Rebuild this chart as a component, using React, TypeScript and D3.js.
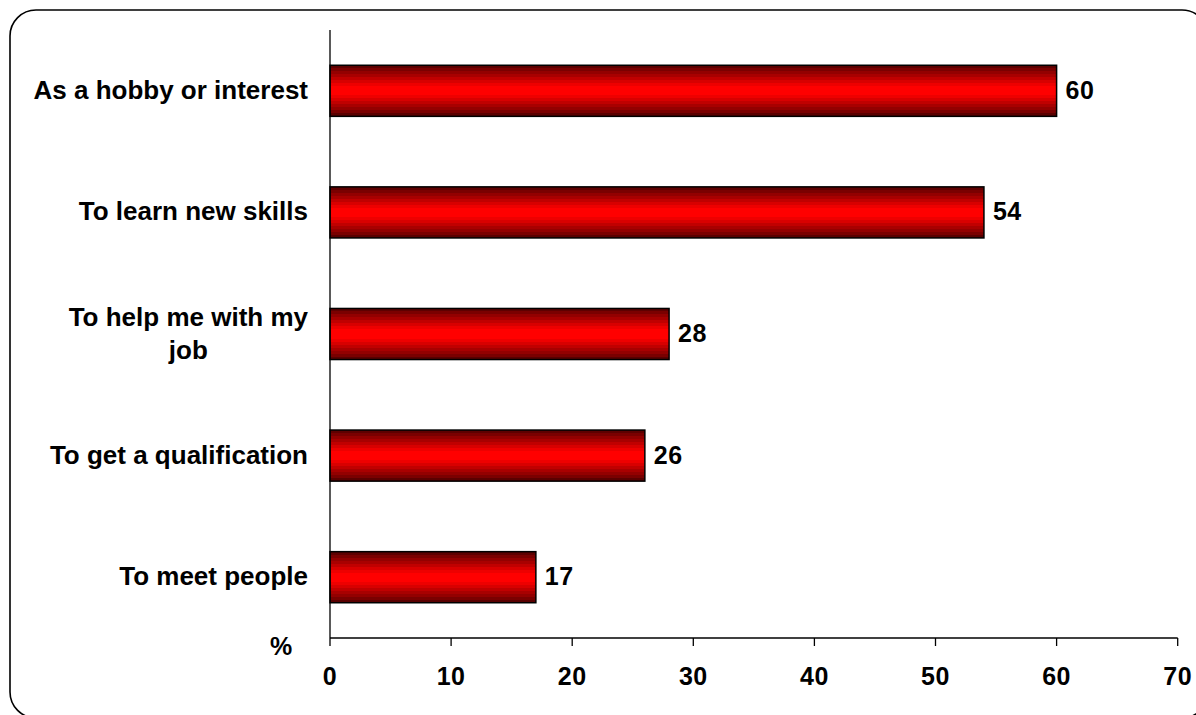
import React from "react";
import * as d3 from "d3";

const categories = [
  "As a hobby or interest",
  "To learn new skills",
  "To help me with my job",
  "To get a qualification",
  "To meet people",
];
const values = [60, 54, 28, 26, 17];
const xTicks = [0, 10, 20, 30, 40, 50, 60, 70];
const axisUnit = "%";

const W = 1196;
const H = 715;
const FONT = "Arial, 'Liberation Sans', sans-serif";
const FS = 25;
const CFS = 26;

const stripeColors = [
  "#5e0000", "#7a0000", "#930000", "#a80000", "#c00000", "#d80000",
  "#ee0000", "#ff0000", "#ff0000", "#ff0000", "#ee0000", "#d80000",
  "#c00000", "#a80000", "#930000", "#7a0000", "#5a0000",
];

function measure(text: string): number {
  if (typeof document === "undefined") return text.length * CFS * 0.55;
  const c = document.createElement("canvas");
  const ctx = c.getContext("2d")!;
  ctx.font = `bold ${CFS}px ${FONT}`;
  return ctx.measureText(text).width;
}

function wrap(text: string, maxW: number): string[] {
  const words = text.split(" ");
  const lines: string[] = [];
  let cur = "";
  for (const w of words) {
    const t = cur ? cur + " " + w : w;
    if (measure(t) > maxW && cur) {
      lines.push(cur);
      cur = w;
    } else cur = t;
  }
  if (cur) lines.push(cur);
  return lines;
}

export default function App() {
  const left = 330;
  const right = 1177.7;
  const top = 30;
  const bottom = 638;

  const x = d3.scaleLinear().domain([0, 70]).range([left, right]);
  const y = d3
    .scaleBand<string>()
    .domain(categories)
    .range([top, bottom])
    .paddingInner(0.58)
    .paddingOuter(0.29);

  const n = stripeColors.length;
  const stops: { off: number; color: string }[] = [];
  stripeColors.forEach((c, i) => {
    stops.push({ off: i / n, color: c });
    stops.push({ off: (i + 1) / n, color: c });
  });

  const labelRight = 308;
  const lineH = 33;

  return (
    <svg
      width={W}
      height={H}
      style={{ position: "absolute", left: 0, top: 0, display: "block" }}
      fontFamily={FONT}
    >
      <defs>
        <linearGradient id="barGrad" x1="0" y1="0" x2="0" y2="1">
          {stops.map((s, i) => (
            <stop key={i} offset={s.off} stopColor={s.color} />
          ))}
        </linearGradient>
      </defs>
      <rect x={0} y={0} width={W} height={H} fill="#fff" />
      <rect
        x={10}
        y={10}
        width={1198}
        height={708}
        rx={26}
        ry={26}
        fill="none"
        stroke="#000"
        strokeWidth={1.6}
      />
      {/* bars */}
      {categories.map((c, i) => (
        <rect
          key={c}
          x={x(0)}
          y={y(c)!}
          width={x(values[i]) - x(0)}
          height={y.bandwidth()}
          fill="url(#barGrad)"
          stroke="#000"
          strokeWidth={1.5}
        />
      ))}
      {/* axes */}
      <line x1={left} x2={left} y1={top} y2={bottom} stroke="#000" strokeWidth={1.3} />
      <line x1={left} x2={right} y1={bottom} y2={bottom} stroke="#000" strokeWidth={1.3} />
      {xTicks.map((t) => (
        <g key={t}>
          <line x1={x(t)} x2={x(t)} y1={bottom} y2={bottom + 8} stroke="#000" strokeWidth={1.3} />
          <text
            x={x(t)}
            y={685}
            textAnchor="middle"
            fontSize={FS}
            fontWeight="bold"
            letterSpacing={0.5}
          >
            {t}
          </text>
        </g>
      ))}
      <text x={281} y={655} textAnchor="middle" fontSize={FS} fontWeight="bold">
        {axisUnit}
      </text>
      {/* category labels */}
      {categories.map((c) => {
        const lines = wrap(c, 285);
        const bw = Math.max(...lines.map(measure));
        const cx = labelRight - bw / 2;
        const cy = y(c)! + y.bandwidth() / 2;
        const first = cy + 8 - ((lines.length - 1) * lineH) / 2;
        return (
          <text
            key={c}
            fontSize={CFS}
            fontWeight="bold"
            textAnchor={lines.length > 1 ? "middle" : "end"}
            fill="#000"
          >
            {lines.map((l, j) => (
              <tspan key={j} x={lines.length > 1 ? cx : labelRight} y={first + j * lineH}>
                {l}
              </tspan>
            ))}
          </text>
        );
      })}
      {/* value labels */}
      {categories.map((c, i) => (
        <text
          key={c}
          x={x(values[i]) + 9}
          y={y(c)! + y.bandwidth() / 2 + 8}
          fontSize={FS}
          fontWeight="bold"
          letterSpacing={0.5}
        >
          {values[i]}
        </text>
      ))}
    </svg>
  );
}
